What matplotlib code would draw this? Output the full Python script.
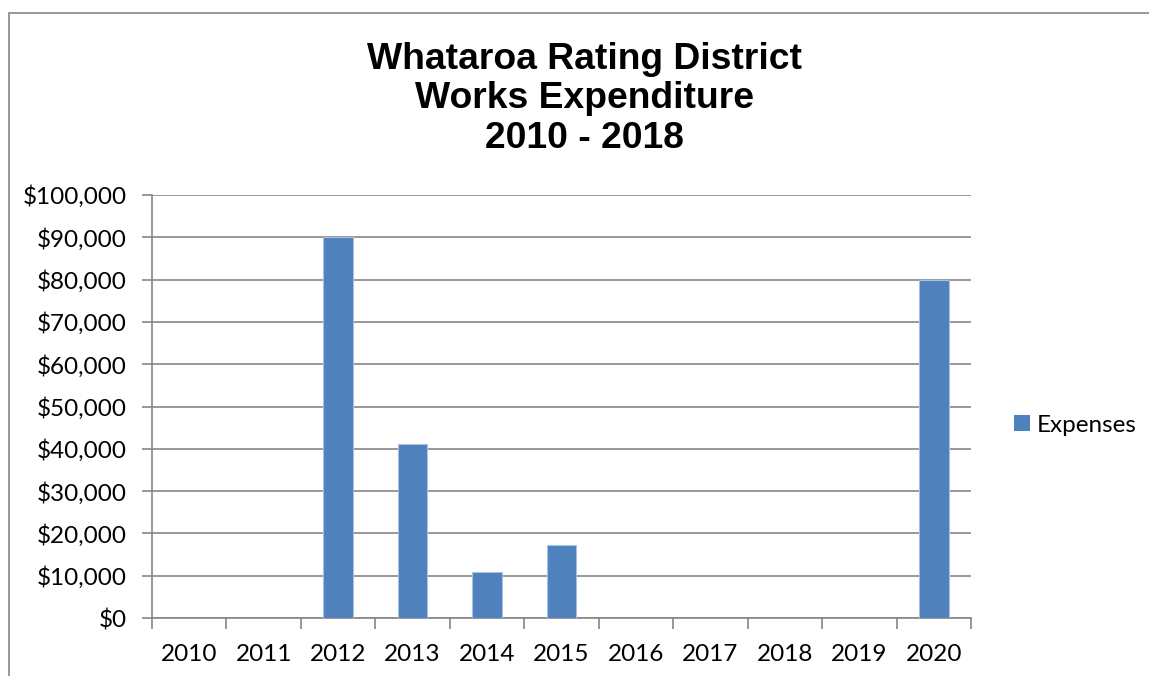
import matplotlib.pyplot as plt
from matplotlib.patches import Rectangle, Patch
from matplotlib.ticker import FuncFormatter, MultipleLocator, FixedLocator
import numpy as np

# data
years = ['2010', '2011', '2012', '2013', '2014', '2015', '2016', '2017', '2018', '2019', '2020']
expenses = [0, 0, 90000, 41100, 10900, 17200, 0, 0, 0, 0, 80000]

bar_color = '#4F81BD'
grid_color = '#868686'

fig = plt.figure(figsize=(11.49, 6.76), dpi=100)
ax = fig.add_axes([152 / 1149, 1 - 618 / 676, (971 - 152) / 1149, (618 - 195) / 676])

x = np.arange(len(years))
ax.bar(x, expenses, width=0.4, color=bar_color, edgecolor='#A9C1E0', linewidth=0.8,
       zorder=3, label='Expenses')

ax.set_xlim(-0.5, len(years) - 0.5)
ax.set_ylim(0, 100000)

# y axis: dollar ticks, gridlines
ax.yaxis.set_major_locator(MultipleLocator(10000))
ax.yaxis.set_major_formatter(FuncFormatter(lambda v, p: '${:,.0f}'.format(v)))
ax.grid(axis='y', color=grid_color, linewidth=1.2, zorder=0)

# x axis: labels at centres, ticks at category boundaries
ax.set_xticks(x)
ax.set_xticklabels(years)
ax.xaxis.set_minor_locator(FixedLocator(np.arange(-0.5, len(years), 1)))
ax.tick_params(axis='x', which='major', length=0, pad=19)
ax.tick_params(axis='x', which='minor', length=8, width=1.2, color=grid_color)
ax.tick_params(axis='y', length=7, width=1.2, color=grid_color, pad=11)
for lab in ax.get_xticklabels() + ax.get_yticklabels():
    lab.set_fontfamily('Lato')
    lab.set_fontsize(17.5)

for side in ['top', 'right']:
    ax.spines[side].set_visible(False)
for side in ['left', 'bottom']:
    ax.spines[side].set_color(grid_color)
    ax.spines[side].set_linewidth(1.2)

# title
fig.text(0.509, 1 - 99 / 676, 'Whataroa Rating District\nWorks Expenditure\n2010 - 2018',
         ha='center', va='center', fontsize=26.8, fontweight='bold',
         family='Liberation Sans', linespacing=1.18)

# legend
fig.legend(handles=[Patch(facecolor=bar_color, label='Expenses')],
           loc='center left', bbox_to_anchor=(992 / 1149, 1 - 425 / 676),
           frameon=False, prop={'family': 'Lato', 'size': 17.5},
           handlelength=0.65, handleheight=0.65, handletextpad=0.3)

# chart border (left and top edges visible)
fig.patches.append(Rectangle((9 / 1149, -0.1), 1.2, 1 - 13 / 676 + 0.1,
                             transform=fig.transFigure, fill=False,
                             edgecolor='#888888', linewidth=1.2))

fig.savefig('out.png', dpi=100, facecolor='white')
